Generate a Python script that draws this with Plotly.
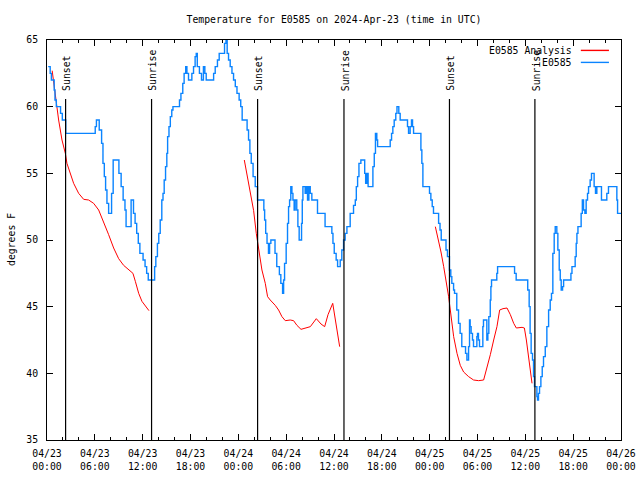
import pandas as pd
import plotly.graph_objects as go

START = pd.Timestamp("2024-04-23 00:00")

# Observed station temperature (hours since 2024-04-23 00:00 UTC, degrees F) - step data
obs_hours = [0.15, 0.4, 0.55, 0.9, 1.0, 1.17, 1.7, 1.92, 2.35, 6.05, 6.2, 6.55, 6.85, 7.02, 7.19, 7.35, 7.52, 7.73,
             8.1, 8.3, 9.02, 9.3, 9.55, 9.78, 9.92, 10.55, 10.85, 11.05, 11.25, 11.45, 11.65, 12.05, 12.3, 12.5, 12.7,
             13.5, 13.65, 13.85, 14.02, 14.2, 14.4, 14.55, 14.7, 14.87, 15.03, 15.13, 15.3, 15.47, 15.65, 15.8,
             16.62, 16.8, 17.03, 17.2, 17.4, 17.55, 17.75, 18.17, 18.38, 18.58, 18.72, 18.85, 19.12, 19.38, 19.62,
             19.8, 19.97, 20.9, 21.1, 21.38, 21.6, 22.27, 22.45, 22.6, 22.77, 22.98, 23.2, 23.4, 23.62, 23.83, 24.1,
             24.3, 24.48, 25.1, 25.28, 25.45, 25.62, 25.85, 26.12, 26.4, 27.2, 27.3, 27.43, 27.6, 27.78, 27.92,
             28.08, 28.6, 28.82, 29.15, 29.33, 29.55, 29.68, 29.8, 30.0, 30.17, 30.3, 30.43, 30.58, 30.72, 30.85,
             31.0, 31.13, 31.33, 31.47, 31.63, 31.93, 32.02, 32.1, 32.38, 32.52, 32.68, 32.85, 33.02, 33.22, 33.93,
             34.88, 35.73, 35.87, 36.03, 36.27, 36.45, 36.78, 36.98, 37.2, 37.4, 37.62, 38.03, 38.45, 38.67, 38.8,
             38.96, 39.13, 39.37, 39.85, 39.97, 40.12, 40.28, 40.88, 41.05, 41.2, 41.37, 41.47, 43.05, 43.22, 43.38,
             43.55, 43.75, 43.9, 44.13, 44.3, 45.22, 45.35, 45.55, 45.72, 45.85, 45.98, 46.9, 47.02, 47.15, 47.98,
             48.15, 48.32, 48.48, 49.12, 49.3, 49.45, 50.05, 50.23, 50.48, 50.65, 50.78, 51.0, 51.12, 51.4, 51.62,
             51.82, 52.03, 52.5, 52.67, 52.88, 53.0, 53.08, 53.2, 53.37, 53.5, 53.92, 54.0, 54.12, 54.25, 54.67,
             54.75, 55.17, 55.3, 55.42, 55.6, 55.68, 55.76, 56.42, 56.52, 58.65, 58.85, 60.3, 60.48, 60.6, 60.73,
             60.9, 61.03, 61.15, 61.45, 61.53, 61.65, 61.78, 61.95, 62.12, 62.28, 62.5, 62.7, 62.92, 63.12, 63.28,
             63.45, 63.62, 63.75, 63.95, 64.08, 64.25, 64.38, 64.5, 64.67, 64.8, 65.72, 65.85, 66.25, 66.38, 66.47,
             66.6, 67.0, 67.15, 67.3, 67.47, 67.63, 67.8, 67.93, 68.13, 68.3, 68.63, 68.8, 68.97, 69.55, 70.22,
             70.43, 71.48, 71.57, 72.0]
obs_temps = [63, 62.5, 62, 61.25, 60.5, 60, 59.5, 59, 58, 58.5, 59, 58.25, 57.25, 55.75, 54.75, 53.75, 52.75, 52,
             53.5, 56, 55, 54, 53, 52.25, 51, 53, 52, 51.25, 50.5, 49.75, 49, 48.5, 48, 47.5, 47,
             48, 48.75, 49.75, 50.5, 51.5, 53, 53.5, 54.5, 55.5, 56.5, 57.75, 58.5, 59.25, 59.75, 60,
             60.5, 61, 61.75, 62.5, 63, 62.5, 62, 62.5, 63, 63.75, 64, 63, 62.5, 62, 63,
             62.5, 62, 62.5, 63, 63.5, 64, 64.75, 65, 64, 63.5, 63, 62.5, 62, 61.5, 61, 60.5,
             60, 59, 58.25, 57.5, 56.5, 55.75, 54.75, 54, 53, 52.25, 51.5, 50.5, 49.75, 49, 49.75,
             50, 49, 48, 47.4, 46.75, 46, 47, 48.25, 49.75, 51.25, 52.5, 53, 54, 53.5, 53,
             52.25, 53, 52.25, 51, 50, 51.25, 53, 54, 53.5, 54, 53, 54, 53.5, 53, 52,
             51, 50.5, 49.75, 49, 48.5, 48, 48.5, 49.25, 50, 50.5, 51, 52, 52.6, 53, 54,
             54.75, 55.75, 56, 55, 54.25, 55, 54, 55.5, 56.5, 58, 57.5, 57, 57.5, 58, 58.5,
             59, 59.5, 60, 59.5, 59, 58.5, 58, 58.5, 59, 58.5, 58, 56.75, 55.75, 54, 53.5,
             53, 52.5, 52, 51.25, 50.75, 50, 49.25, 48.75, 47.75, 47.25, 46.75, 46.25, 46, 44.75, 43.75,
             43, 42, 41.5, 41, 42, 44, 43.5, 43, 42.5, 42, 42.75, 43, 42.5, 42, 43.5,
             44, 42.5, 43, 44.25, 45.5, 46.5, 47, 47.5, 48, 47.5, 47, 46.25, 45, 43, 41.5,
             41, 39.75, 39, 38.25, 38, 38.5, 39, 39.75, 40.5, 41.25, 42, 43.5, 44.75, 45.5, 46,
             49, 50.5, 51, 50.5, 49.25, 47.75, 47, 46.25, 46.5, 47, 47.5, 48, 48.75, 49.75, 50.5,
             51, 52, 53, 52.25, 52, 53, 53.5, 54, 54.5, 55, 54, 53.5, 54, 53, 53.5,
             54, 53, 52, 52]

# Analysis temperature (None marks gaps between analysis runs)
ana_hours = [0.65, 1.04, 1.46, 1.88, 2.3, 2.5, 2.92, 3.34, 3.97, 4.6, 5.22, 5.85, 6.48, 7.1, 7.73, 8.36, 8.99, 9.61,
             10.24, 10.78, 11.08, 11.5, 11.91, 12.46, 12.79, None,
             24.75, 25.08, 25.5, 25.92, 26.25, 26.42, 26.67, 26.96, 27.38, 27.67, 28.0, 28.63, 29.05, 29.47, 29.89,
             30.51, 30.93, 31.35, 31.86, 32.4, 33.03, 33.78, 34.37, 34.83, 35.25, 35.84, 36.17, 36.46, 36.71, None,
             48.71, 49.13, 49.42, 49.76, 50.09, 50.38, 50.59, 50.8, 51.01, 51.43, 51.84, 52.26, 52.89, 53.51, 54.14,
             54.77, 55.19, 55.61, 56.03, 56.44, 56.78, 57.2, 57.7, 58.12, 58.54, 58.87, 59.59, 59.88, 60.13, 60.42,
             60.63, 60.84]
ana_temps = [62.7, 60.75, 59, 57.5, 56.5, 55.75, 55, 54.25, 53.5, 53.05, 53.0, 52.75, 52.25, 51.4, 50.4, 49.4, 48.6,
             48.1, 47.8, 47.5, 46.9, 46, 45.4, 44.95, 44.7, None,
             56, 55, 53.75, 52.2, 50.5, 49.75, 48.75, 47.75, 46.75, 45.75, 45.5, 45.1, 44.75, 44.25, 43.95,
             44.0, 43.95, 43.6, 43.3, 43.4, 43.5, 44.1, 43.7, 43.5, 44.4, 45.25, 44.0, 43.0, 42.0, None,
             51, 49.95, 49.1, 48.0, 46.9, 45.75, 44.75, 43.5, 42.75, 41.5, 40.6, 40.1, 39.75, 39.5, 39.45,
             39.5, 40.4, 41.4, 42.5, 43.5, 44.75, 44.85, 44.9, 44.4, 43.75, 43.4, 43.45, 43.4, 42.5, 41.0,
             40.0, 39.25]

# Sun events (UTC)
sun_labels = ["Sunset", "Sunrise", "Sunset", "Sunrise", "Sunset", "Sunrise"]
sun_times = ["2024-04-23 02:20", "2024-04-23 13:07", "2024-04-24 02:25",
             "2024-04-24 13:15", "2024-04-25 02:29", "2024-04-25 13:12"]

title_text = "Temperature for E0585 on 2024-Apr-23 (time in UTC)"
y_title = "degrees F"
series_names = ["E0585 Analysis", "E0585"]
series_colors = ["#ff0000", "#0a84ff"]


def to_time(h):
    return None if h is None else START + pd.Timedelta(hours=h)


MONO = "DejaVu Sans Mono"
FS = 9.8

fig = go.Figure()
fig.add_trace(go.Scatter(x=[to_time(h) for h in ana_hours], y=ana_temps, mode="lines",
                         name=series_names[0], line=dict(color=series_colors[0], width=1.0),
                         connectgaps=False, showlegend=False))
fig.add_trace(go.Scatter(x=[to_time(h) for h in obs_hours], y=obs_temps, mode="lines",
                         name=series_names[1], line=dict(color=series_colors[1], width=1.4, shape="hv"),
                         showlegend=False))

for lab, t in zip(sun_labels, sun_times):
    fig.add_shape(type="line", xref="x", yref="paper", x0=t, x1=t, y0=0, y1=0.8525,
                  line=dict(color="black", width=1.2))
    fig.add_annotation(x=t, xref="x", y=0.868, yref="paper", text=lab, showarrow=False,
                       textangle=-90, xanchor="center", yanchor="bottom", xshift=1,
                       font=dict(family=MONO, size=FS, color="black"))

# key (text on the left, line sample on the right as in the original)
key_y = [0.974, 0.944]
for name, col, yy in zip(series_names, series_colors, key_y):
    fig.add_annotation(x=0.918, xref="paper", y=yy, yref="paper", text=name, showarrow=False,
                       xanchor="right", yanchor="middle", font=dict(family=MONO, size=FS, color="black"))
    fig.add_shape(type="line", xref="paper", yref="paper", x0=0.930, x1=0.979, y0=yy, y1=yy,
                  line=dict(color=col, width=1.4))

# y-axis title placed in the left margin
fig.add_annotation(x=-0.0627, xref="paper", y=0.5, yref="paper", text=y_title, showarrow=False,
                   textangle=-90, xanchor="center", yanchor="middle",
                   font=dict(family=MONO, size=FS, color="black"))

fig.update_layout(
    width=640, height=480,
    margin=dict(l=47, r=19, t=40, b=40, autoexpand=False),
    paper_bgcolor="white", plot_bgcolor="white",
    title=dict(text=title_text, x=0.5, xref="paper", xanchor="center", y=1 - 20 / 480, yanchor="middle",
               font=dict(family=MONO, size=FS, color="black")),
    showlegend=False,
)
fig.update_xaxes(
    type="date", range=[START, START + pd.Timedelta(hours=72)], automargin=False,
    tickmode="linear", tick0=START, dtick=6 * 3600 * 1000, tickformat="%m/%d<br>%H:%M",
    ticks="inside", ticklen=6, tickcolor="black", tickwidth=1,
    minor=dict(ticks="inside", ticklen=3, tickcolor="black", dtick=2 * 3600 * 1000, tick0=START, showgrid=False),
    showline=True, linecolor="black", linewidth=1, mirror="allticks",
    showgrid=False, zeroline=False, ticklabelstandoff=4,
    tickfont=dict(family=MONO, size=FS, color="black"),
)
fig.update_yaxes(
    range=[35, 65], tickmode="linear", tick0=35, dtick=5, automargin=False,
    ticks="inside", ticklen=6, tickcolor="black", tickwidth=1,
    showline=True, linecolor="black", linewidth=1, mirror="allticks",
    showgrid=False, zeroline=False, ticklabelstandoff=6,
    tickfont=dict(family=MONO, size=FS, color="black"),
)

fig.write_html("out.html")
